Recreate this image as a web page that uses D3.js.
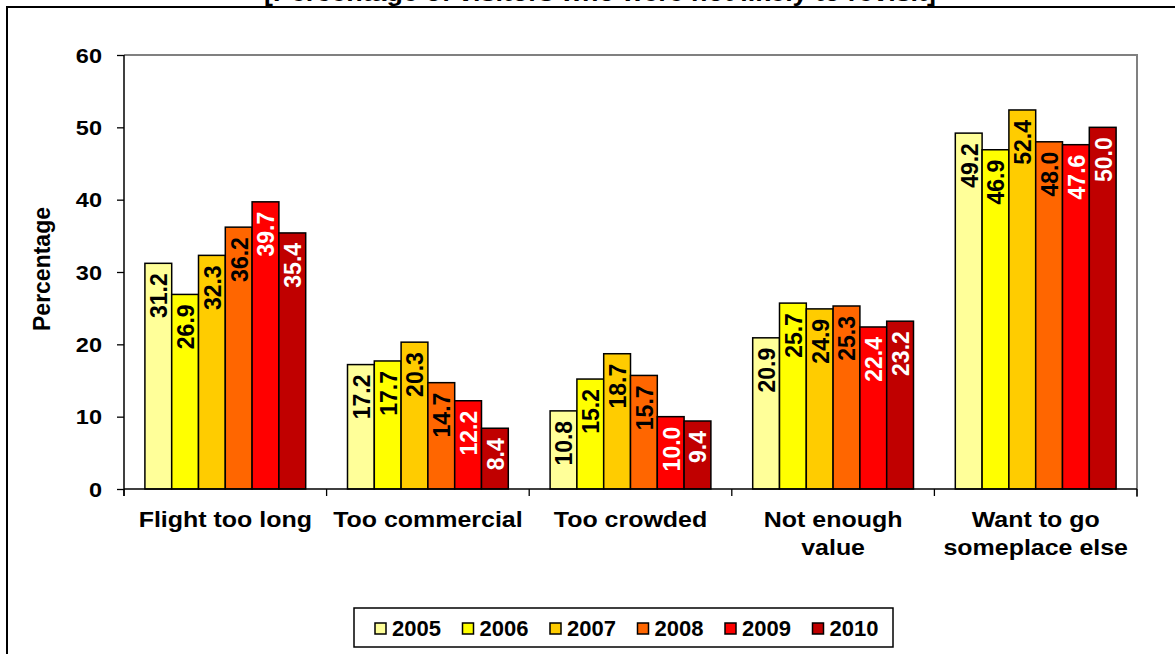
<!DOCTYPE html>
<html>
<head>
<meta charset="utf-8">
<script src="https://cdn.jsdelivr.net/npm/d3@7"></script>
<style>
  html, body { margin: 0; padding: 0; background: #fff; }
  svg { display: block; font-family: "Liberation Sans", Arial, sans-serif; font-weight: bold; }
</style>
</head>
<body>
<svg id="chart" width="1175" height="654"></svg>
<script>
const categories = [["Flight too long"], ["Too commercial"], ["Too crowded"], ["Not enough", "value"], ["Want to go", "someplace else"]];
const years = ["2005", "2006", "2007", "2008", "2009", "2010"];
const colors = ["#FFFF99", "#FFFF00", "#FFCC00", "#FF6600", "#FF0000", "#C00000"];
const labelColors = ["#000", "#000", "#000", "#000", "#fff", "#fff"];
const v2005 = [31.2, 17.2, 10.8, 20.9, 49.2];
const v2006 = [26.9, 17.7, 15.2, 25.7, 46.9];
const v2007 = [32.3, 20.3, 18.7, 24.9, 52.4];
const v2008 = [36.2, 14.7, 15.7, 25.3, 48.0];
const v2009 = [39.7, 12.2, 10.0, 22.4, 47.6];
const v2010 = [35.4, 8.4, 9.4, 23.2, 50.0];
const yTicks = [0, 10, 20, 30, 40, 50, 60];
const title = "[Percentage of visitors who were not likely to revisit]";
const yTitle = "Percentage";

const series = [v2005, v2006, v2007, v2008, v2009, v2010];
const svg = d3.select("#chart");
const pL = 124, pR = 1137, pT = 55, pB = 489;
const SX = 1.12;

// outer border
svg.append("rect").attr("x", 7).attr("y", 7).attr("width", 1200).attr("height", 700)
  .attr("fill", "none").attr("stroke", "#000").attr("stroke-width", 2);

// title (cut off at top, as in the reference)
svg.append("text").attr("transform", `translate(600,1) scale(${SX},1)`)
  .attr("text-anchor", "middle").attr("font-size", 24).text(title);

const x0 = d3.scaleBand().domain(d3.range(categories.length)).range([pL, pR]).paddingInner(0).paddingOuter(0);
const x1 = d3.scaleBand().domain(d3.range(years.length)).range([0, x0.bandwidth()]).paddingOuter(0.78).paddingInner(0);
const y = d3.scaleLinear().domain([0, 60]).range([pB, pT]);

// plot area border (gray)
svg.append("path").attr("d", `M${pL},${pT}H${pR}V${pB + 8}`)
  .attr("fill", "none").attr("stroke", "#808080").attr("stroke-width", 2);

// bars
const groups = svg.append("g").selectAll("g").data(categories).join("g")
  .attr("transform", (d, i) => `translate(${x0(i)},0)`);
const labelLayer = [];
groups.each(function(c, ci) {
  const g = d3.select(this);
  years.forEach((yr, si) => {
    const v = series[si][ci];
    g.append("rect").attr("x", x1(si)).attr("y", y(v))
      .attr("width", x1.bandwidth()).attr("height", y(0) - y(v))
      .attr("fill", colors[si]).attr("stroke", "#000").attr("stroke-width", 1.5);
    labelLayer.push({ cx: x0(ci) + x1(si) + x1.bandwidth() / 2, v, si });
  });
});

// x axis
svg.append("line").attr("x1", pL).attr("x2", pR).attr("y1", pB).attr("y2", pB)
  .attr("stroke", "#000").attr("stroke-width", 1.5);
const xEdges = d3.range(categories.length + 1).map(i => i < categories.length ? x0(i) : pR);
svg.append("g").selectAll("line").data(xEdges).join("line")
  .attr("x1", d => d).attr("x2", d => d).attr("y1", pB).attr("y2", pB + 7)
  .attr("stroke", "#000").attr("stroke-width", 1.3);

// bar labels
svg.append("g").selectAll("text").data(labelLayer).join("text")
  .attr("transform", d => `translate(${d.cx},${y(d.v) + 10}) scale(1.08,1) rotate(-90)`)
  .attr("text-anchor", "end").attr("dy", "0.36em")
  .attr("font-size", 23).attr("fill", d => labelColors[d.si])
  .text(d => d.v.toFixed(1));

// y axis
const yAxis = svg.append("g").attr("transform", `translate(${pL},0)`)
  .call(d3.axisLeft(y).tickValues(yTicks).tickSize(7).tickFormat(d3.format("d")));
yAxis.select(".domain").remove();
yAxis.selectAll(".tick line").attr("stroke", "#000").attr("stroke-width", 1.3);
yAxis.selectAll(".tick text").remove();
yAxis.append("line").attr("x1", 0).attr("x2", 0).attr("y1", pT).attr("y2", pB + 7)
  .attr("stroke", "#000").attr("stroke-width", 1.5);
svg.append("g").selectAll("text").data(yTicks).join("text")
  .attr("transform", d => `translate(102,${y(d)}) scale(${SX},1)`)
  .attr("text-anchor", "end").attr("dy", "0.36em").attr("font-size", 21).attr("fill", "#000")
  .text(d => d);

// category labels
const cl = svg.append("g").selectAll("text").data(categories).join("text")
  .attr("transform", (d, i) => `translate(${x0(i) + x0.bandwidth() / 2},527) scale(${SX},1)`)
  .attr("text-anchor", "middle").attr("font-size", 22.3).attr("fill", "#000");
cl.each(function(lines) {
  d3.select(this).selectAll("tspan").data(lines).join("tspan")
    .attr("x", 0).attr("y", (d, i) => i * 28.5).text(d => d);
});

// y title
svg.append("text").attr("transform", "translate(42,269) rotate(-90)")
  .attr("text-anchor", "middle").attr("dy", "0.36em").attr("font-size", 23).text(yTitle);

// legend
const legend = svg.append("g");
legend.append("rect").attr("x", 354).attr("y", 608).attr("width", 539).attr("height", 39)
  .attr("fill", "#fff").attr("stroke", "#000").attr("stroke-width", 1.5);
const li = legend.selectAll("g.item").data(years).join("g").attr("class", "item")
  .attr("transform", (d, i) => `translate(${375 + i * 87.5},0)`);
li.append("rect").attr("x", 0).attr("y", 623).attr("width", 11).attr("height", 11)
  .attr("fill", (d, i) => colors[i]).attr("stroke", "#000").attr("stroke-width", 1.5);
li.append("text").attr("x", 17).attr("y", 636).attr("font-size", 22).attr("fill", "#000").text(d => d);
</script>
</body>
</html>
